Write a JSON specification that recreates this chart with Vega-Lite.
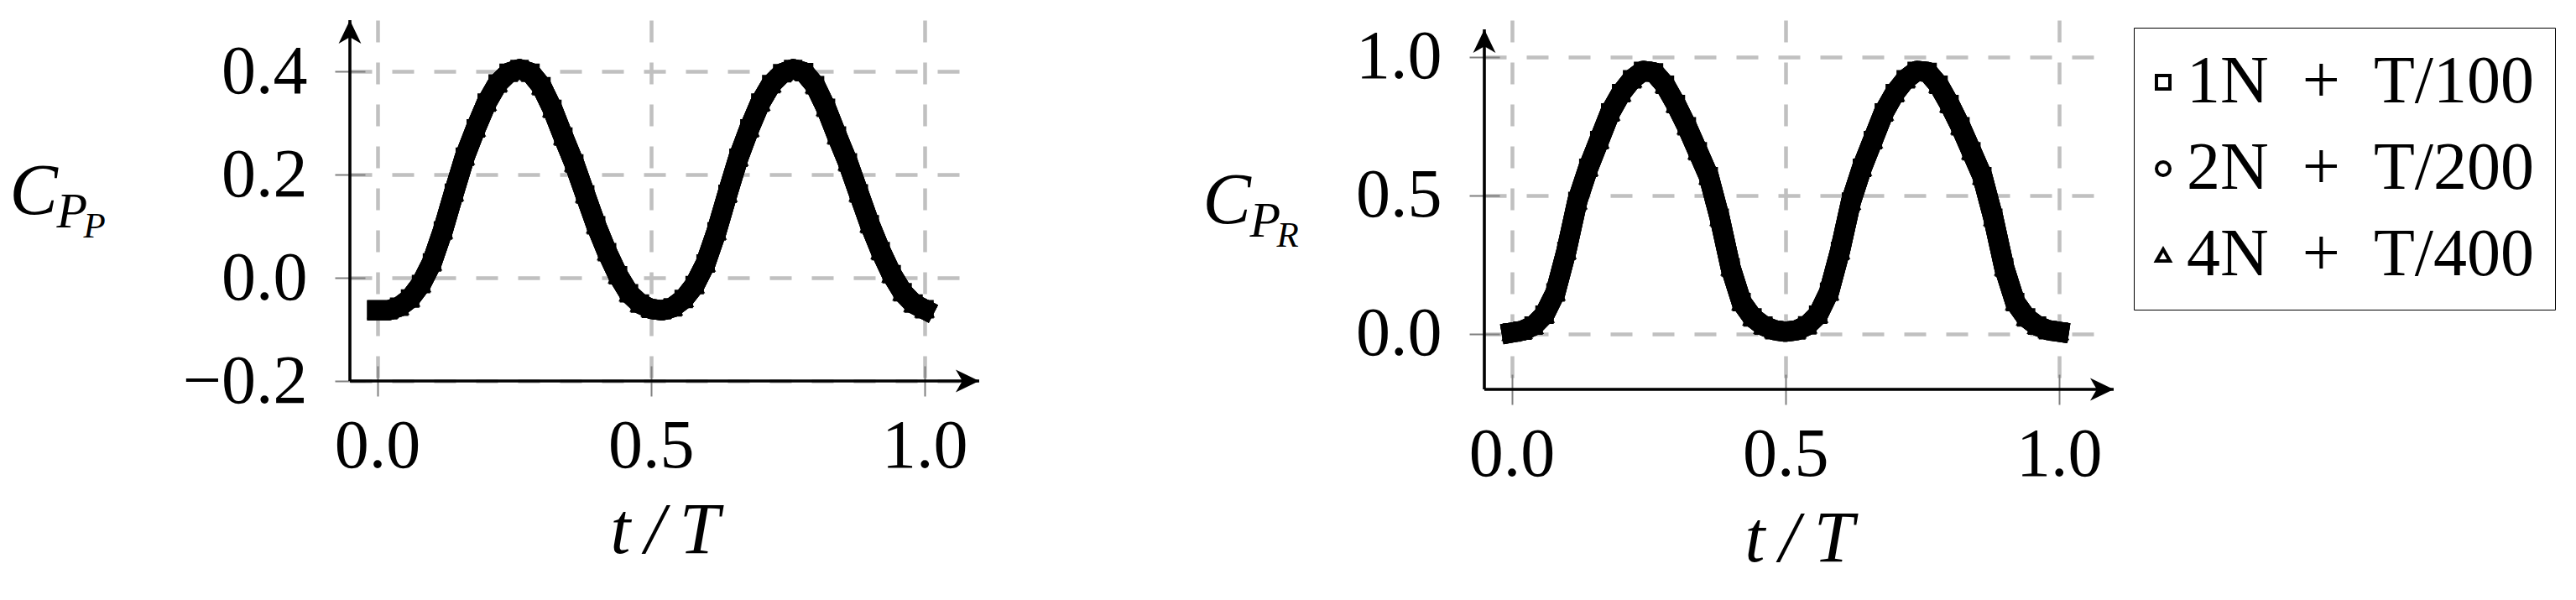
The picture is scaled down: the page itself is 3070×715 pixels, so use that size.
{
"$schema": "https://vega.github.io/schema/vega-lite/v6.json",
"padding": {"left": 11, "top": 22, "right": 5, "bottom": 5},
"background": "white",
"config": {
  "font": "Liberation Serif",
  "view": {"stroke": null},
  "axis": {"labelFont": "Liberation Serif", "labelFontSize": 82, "labelColor": "black", "titleFont": "Liberation Serif", "titleColor": "black", "titleFontWeight": "normal", "tickColor": "#808080", "tickWidth": 2, "gridColor": "#c0c0c0", "gridDash": [26, 24], "gridWidth": 4.5, "gridOpacity": 1, "domain": false, "labelFlush": false, "labelOverlap": false}
},
"resolve": {"scale": {"shape": "independent"}, "legend": {"shape": "independent"}},
"spacing": 264,
"datasets": {
"pp": [
{"s":"1N","t":0,"c":-0.063},{"s":"1N","t":0.02,"c":-0.063},{"s":"1N","t":0.04,"c":-0.056},{"s":"1N","t":0.06,"c":-0.04},{"s":"1N","t":0.08,"c":-0.012},{"s":"1N","t":0.1,"c":0.03},{"s":"1N","t":0.12,"c":0.092},{"s":"1N","t":0.14,"c":0.165},{"s":"1N","t":0.16,"c":0.235},{"s":"1N","t":0.18,"c":0.29},{"s":"1N","t":0.2,"c":0.34},{"s":"1N","t":0.22,"c":0.377},{"s":"1N","t":0.24,"c":0.398},{"s":"1N","t":0.26,"c":0.405},{"s":"1N","t":0.28,"c":0.398},{"s":"1N","t":0.3,"c":0.372},{"s":"1N","t":0.32,"c":0.328},{"s":"1N","t":0.34,"c":0.274},{"s":"1N","t":0.36,"c":0.222},{"s":"1N","t":0.38,"c":0.162},{"s":"1N","t":0.4,"c":0.102},{"s":"1N","t":0.42,"c":0.05},{"s":"1N","t":0.44,"c":0.005},{"s":"1N","t":0.46,"c":-0.03},{"s":"1N","t":0.48,"c":-0.05},{"s":"1N","t":0.5,"c":-0.06},{"s":"1N","t":0.52,"c":-0.063},{"s":"1N","t":0.54,"c":-0.057},{"s":"1N","t":0.56,"c":-0.041},{"s":"1N","t":0.58,"c":-0.014},{"s":"1N","t":0.6,"c":0.028},{"s":"1N","t":0.62,"c":0.09},{"s":"1N","t":0.64,"c":0.163},{"s":"1N","t":0.66,"c":0.233},{"s":"1N","t":0.68,"c":0.29},{"s":"1N","t":0.7,"c":0.34},{"s":"1N","t":0.72,"c":0.376},{"s":"1N","t":0.74,"c":0.397},{"s":"1N","t":0.76,"c":0.405},{"s":"1N","t":0.78,"c":0.399},{"s":"1N","t":0.8,"c":0.374},{"s":"1N","t":0.82,"c":0.33},{"s":"1N","t":0.84,"c":0.276},{"s":"1N","t":0.86,"c":0.224},{"s":"1N","t":0.88,"c":0.164},{"s":"1N","t":0.9,"c":0.104},{"s":"1N","t":0.92,"c":0.052},{"s":"1N","t":0.94,"c":0.007},{"s":"1N","t":0.96,"c":-0.028},{"s":"1N","t":0.98,"c":-0.05},{"s":"1N","t":1,"c":-0.061},
{"s":"2N","t":0,"c":-0.063},{"s":"2N","t":0.02,"c":-0.063},{"s":"2N","t":0.04,"c":-0.056},{"s":"2N","t":0.06,"c":-0.04},{"s":"2N","t":0.08,"c":-0.012},{"s":"2N","t":0.1,"c":0.03},{"s":"2N","t":0.12,"c":0.092},{"s":"2N","t":0.14,"c":0.165},{"s":"2N","t":0.16,"c":0.235},{"s":"2N","t":0.18,"c":0.29},{"s":"2N","t":0.2,"c":0.34},{"s":"2N","t":0.22,"c":0.377},{"s":"2N","t":0.24,"c":0.398},{"s":"2N","t":0.26,"c":0.405},{"s":"2N","t":0.28,"c":0.398},{"s":"2N","t":0.3,"c":0.372},{"s":"2N","t":0.32,"c":0.328},{"s":"2N","t":0.34,"c":0.274},{"s":"2N","t":0.36,"c":0.222},{"s":"2N","t":0.38,"c":0.162},{"s":"2N","t":0.4,"c":0.102},{"s":"2N","t":0.42,"c":0.05},{"s":"2N","t":0.44,"c":0.005},{"s":"2N","t":0.46,"c":-0.03},{"s":"2N","t":0.48,"c":-0.05},{"s":"2N","t":0.5,"c":-0.06},{"s":"2N","t":0.52,"c":-0.063},{"s":"2N","t":0.54,"c":-0.057},{"s":"2N","t":0.56,"c":-0.041},{"s":"2N","t":0.58,"c":-0.014},{"s":"2N","t":0.6,"c":0.028},{"s":"2N","t":0.62,"c":0.09},{"s":"2N","t":0.64,"c":0.163},{"s":"2N","t":0.66,"c":0.233},{"s":"2N","t":0.68,"c":0.29},{"s":"2N","t":0.7,"c":0.34},{"s":"2N","t":0.72,"c":0.376},{"s":"2N","t":0.74,"c":0.397},{"s":"2N","t":0.76,"c":0.405},{"s":"2N","t":0.78,"c":0.399},{"s":"2N","t":0.8,"c":0.374},{"s":"2N","t":0.82,"c":0.33},{"s":"2N","t":0.84,"c":0.276},{"s":"2N","t":0.86,"c":0.224},{"s":"2N","t":0.88,"c":0.164},{"s":"2N","t":0.9,"c":0.104},{"s":"2N","t":0.92,"c":0.052},{"s":"2N","t":0.94,"c":0.007},{"s":"2N","t":0.96,"c":-0.028},{"s":"2N","t":0.98,"c":-0.05},{"s":"2N","t":1,"c":-0.061},
{"s":"4N","t":0,"c":-0.063},{"s":"4N","t":0.02,"c":-0.063},{"s":"4N","t":0.04,"c":-0.056},{"s":"4N","t":0.06,"c":-0.04},{"s":"4N","t":0.08,"c":-0.012},{"s":"4N","t":0.1,"c":0.03},{"s":"4N","t":0.12,"c":0.092},{"s":"4N","t":0.14,"c":0.165},{"s":"4N","t":0.16,"c":0.235},{"s":"4N","t":0.18,"c":0.29},{"s":"4N","t":0.2,"c":0.34},{"s":"4N","t":0.22,"c":0.377},{"s":"4N","t":0.24,"c":0.398},{"s":"4N","t":0.26,"c":0.405},{"s":"4N","t":0.28,"c":0.398},{"s":"4N","t":0.3,"c":0.372},{"s":"4N","t":0.32,"c":0.328},{"s":"4N","t":0.34,"c":0.274},{"s":"4N","t":0.36,"c":0.222},{"s":"4N","t":0.38,"c":0.162},{"s":"4N","t":0.4,"c":0.102},{"s":"4N","t":0.42,"c":0.05},{"s":"4N","t":0.44,"c":0.005},{"s":"4N","t":0.46,"c":-0.03},{"s":"4N","t":0.48,"c":-0.05},{"s":"4N","t":0.5,"c":-0.06},{"s":"4N","t":0.52,"c":-0.063},{"s":"4N","t":0.54,"c":-0.057},{"s":"4N","t":0.56,"c":-0.041},{"s":"4N","t":0.58,"c":-0.014},{"s":"4N","t":0.6,"c":0.028},{"s":"4N","t":0.62,"c":0.09},{"s":"4N","t":0.64,"c":0.163},{"s":"4N","t":0.66,"c":0.233},{"s":"4N","t":0.68,"c":0.29},{"s":"4N","t":0.7,"c":0.34},{"s":"4N","t":0.72,"c":0.376},{"s":"4N","t":0.74,"c":0.397},{"s":"4N","t":0.76,"c":0.405},{"s":"4N","t":0.78,"c":0.399},{"s":"4N","t":0.8,"c":0.374},{"s":"4N","t":0.82,"c":0.33},{"s":"4N","t":0.84,"c":0.276},{"s":"4N","t":0.86,"c":0.224},{"s":"4N","t":0.88,"c":0.164},{"s":"4N","t":0.9,"c":0.104},{"s":"4N","t":0.92,"c":0.052},{"s":"4N","t":0.94,"c":0.007},{"s":"4N","t":0.96,"c":-0.028},{"s":"4N","t":0.98,"c":-0.05},{"s":"4N","t":1,"c":-0.061}
],
"pr": [
{"s":"1N","t":0,"c":0.005},{"s":"1N","t":0.02,"c":0.012},{"s":"1N","t":0.04,"c":0.03},{"s":"1N","t":0.06,"c":0.07},{"s":"1N","t":0.08,"c":0.15},{"s":"1N","t":0.1,"c":0.3},{"s":"1N","t":0.12,"c":0.48},{"s":"1N","t":0.14,"c":0.6},{"s":"1N","t":0.16,"c":0.7},{"s":"1N","t":0.18,"c":0.8},{"s":"1N","t":0.2,"c":0.87},{"s":"1N","t":0.22,"c":0.92},{"s":"1N","t":0.24,"c":0.95},{"s":"1N","t":0.26,"c":0.945},{"s":"1N","t":0.28,"c":0.9},{"s":"1N","t":0.3,"c":0.83},{"s":"1N","t":0.32,"c":0.75},{"s":"1N","t":0.34,"c":0.66},{"s":"1N","t":0.36,"c":0.57},{"s":"1N","t":0.38,"c":0.42},{"s":"1N","t":0.4,"c":0.24},{"s":"1N","t":0.42,"c":0.115},{"s":"1N","t":0.44,"c":0.06},{"s":"1N","t":0.46,"c":0.03},{"s":"1N","t":0.48,"c":0.014},{"s":"1N","t":0.5,"c":0.008},{"s":"1N","t":0.52,"c":0.013},{"s":"1N","t":0.54,"c":0.031},{"s":"1N","t":0.56,"c":0.07},{"s":"1N","t":0.58,"c":0.152},{"s":"1N","t":0.6,"c":0.3},{"s":"1N","t":0.62,"c":0.478},{"s":"1N","t":0.64,"c":0.6},{"s":"1N","t":0.66,"c":0.7},{"s":"1N","t":0.68,"c":0.8},{"s":"1N","t":0.7,"c":0.87},{"s":"1N","t":0.72,"c":0.92},{"s":"1N","t":0.74,"c":0.95},{"s":"1N","t":0.76,"c":0.946},{"s":"1N","t":0.78,"c":0.9},{"s":"1N","t":0.8,"c":0.83},{"s":"1N","t":0.82,"c":0.75},{"s":"1N","t":0.84,"c":0.66},{"s":"1N","t":0.86,"c":0.57},{"s":"1N","t":0.88,"c":0.42},{"s":"1N","t":0.9,"c":0.24},{"s":"1N","t":0.92,"c":0.115},{"s":"1N","t":0.94,"c":0.06},{"s":"1N","t":0.96,"c":0.03},{"s":"1N","t":0.98,"c":0.014},{"s":"1N","t":1,"c":0.008},
{"s":"2N","t":0,"c":0.005},{"s":"2N","t":0.02,"c":0.012},{"s":"2N","t":0.04,"c":0.03},{"s":"2N","t":0.06,"c":0.07},{"s":"2N","t":0.08,"c":0.15},{"s":"2N","t":0.1,"c":0.3},{"s":"2N","t":0.12,"c":0.48},{"s":"2N","t":0.14,"c":0.6},{"s":"2N","t":0.16,"c":0.7},{"s":"2N","t":0.18,"c":0.8},{"s":"2N","t":0.2,"c":0.87},{"s":"2N","t":0.22,"c":0.92},{"s":"2N","t":0.24,"c":0.95},{"s":"2N","t":0.26,"c":0.945},{"s":"2N","t":0.28,"c":0.9},{"s":"2N","t":0.3,"c":0.83},{"s":"2N","t":0.32,"c":0.75},{"s":"2N","t":0.34,"c":0.66},{"s":"2N","t":0.36,"c":0.57},{"s":"2N","t":0.38,"c":0.42},{"s":"2N","t":0.4,"c":0.24},{"s":"2N","t":0.42,"c":0.115},{"s":"2N","t":0.44,"c":0.06},{"s":"2N","t":0.46,"c":0.03},{"s":"2N","t":0.48,"c":0.014},{"s":"2N","t":0.5,"c":0.008},{"s":"2N","t":0.52,"c":0.013},{"s":"2N","t":0.54,"c":0.031},{"s":"2N","t":0.56,"c":0.07},{"s":"2N","t":0.58,"c":0.152},{"s":"2N","t":0.6,"c":0.3},{"s":"2N","t":0.62,"c":0.478},{"s":"2N","t":0.64,"c":0.6},{"s":"2N","t":0.66,"c":0.7},{"s":"2N","t":0.68,"c":0.8},{"s":"2N","t":0.7,"c":0.87},{"s":"2N","t":0.72,"c":0.92},{"s":"2N","t":0.74,"c":0.95},{"s":"2N","t":0.76,"c":0.946},{"s":"2N","t":0.78,"c":0.9},{"s":"2N","t":0.8,"c":0.83},{"s":"2N","t":0.82,"c":0.75},{"s":"2N","t":0.84,"c":0.66},{"s":"2N","t":0.86,"c":0.57},{"s":"2N","t":0.88,"c":0.42},{"s":"2N","t":0.9,"c":0.24},{"s":"2N","t":0.92,"c":0.115},{"s":"2N","t":0.94,"c":0.06},{"s":"2N","t":0.96,"c":0.03},{"s":"2N","t":0.98,"c":0.014},{"s":"2N","t":1,"c":0.008},
{"s":"4N","t":0,"c":0.005},{"s":"4N","t":0.02,"c":0.012},{"s":"4N","t":0.04,"c":0.03},{"s":"4N","t":0.06,"c":0.07},{"s":"4N","t":0.08,"c":0.15},{"s":"4N","t":0.1,"c":0.3},{"s":"4N","t":0.12,"c":0.48},{"s":"4N","t":0.14,"c":0.6},{"s":"4N","t":0.16,"c":0.7},{"s":"4N","t":0.18,"c":0.8},{"s":"4N","t":0.2,"c":0.87},{"s":"4N","t":0.22,"c":0.92},{"s":"4N","t":0.24,"c":0.95},{"s":"4N","t":0.26,"c":0.945},{"s":"4N","t":0.28,"c":0.9},{"s":"4N","t":0.3,"c":0.83},{"s":"4N","t":0.32,"c":0.75},{"s":"4N","t":0.34,"c":0.66},{"s":"4N","t":0.36,"c":0.57},{"s":"4N","t":0.38,"c":0.42},{"s":"4N","t":0.4,"c":0.24},{"s":"4N","t":0.42,"c":0.115},{"s":"4N","t":0.44,"c":0.06},{"s":"4N","t":0.46,"c":0.03},{"s":"4N","t":0.48,"c":0.014},{"s":"4N","t":0.5,"c":0.008},{"s":"4N","t":0.52,"c":0.013},{"s":"4N","t":0.54,"c":0.031},{"s":"4N","t":0.56,"c":0.07},{"s":"4N","t":0.58,"c":0.152},{"s":"4N","t":0.6,"c":0.3},{"s":"4N","t":0.62,"c":0.478},{"s":"4N","t":0.64,"c":0.6},{"s":"4N","t":0.66,"c":0.7},{"s":"4N","t":0.68,"c":0.8},{"s":"4N","t":0.7,"c":0.87},{"s":"4N","t":0.72,"c":0.92},{"s":"4N","t":0.74,"c":0.95},{"s":"4N","t":0.76,"c":0.946},{"s":"4N","t":0.78,"c":0.9},{"s":"4N","t":0.8,"c":0.83},{"s":"4N","t":0.82,"c":0.75},{"s":"4N","t":0.84,"c":0.66},{"s":"4N","t":0.86,"c":0.57},{"s":"4N","t":0.88,"c":0.42},{"s":"4N","t":0.9,"c":0.24},{"s":"4N","t":0.92,"c":0.115},{"s":"4N","t":0.94,"c":0.06},{"s":"4N","t":0.96,"c":0.03},{"s":"4N","t":0.98,"c":0.014},{"s":"4N","t":1,"c":0.008}
]
},
"hconcat": [
{
  "width": 750, "height": 430,
  "data": {"name": "pp"},
  "resolve": {"axis": {"x": "independent", "y": "independent"}},
  "layer": [
    {"mark": {"type": "line", "color": "black", "strokeWidth": 24, "strokeJoin": "round", "strokeCap": "square"},
     "encoding": {
       "x": {"field": "t", "type": "quantitative", "scale": {"domain": [-0.05, 1.1], "nice": false, "zero": false},
             "axis": {"orient": "bottom", "values": [0, 0.5, 1], "format": ".1f", "title": "t\u2009/\u2009T", "titleFontSize": 86, "titleFontStyle": "italic", "titlePadding": 18, "offset": -18, "tickSize": 36, "labelPadding": 19, "grid": true}},
       "y": {"field": "c", "type": "quantitative", "scale": {"domain": [-0.2, 0.5], "nice": false, "zero": false},
             "axis": {"orient": "left", "values": [-0.2, 0, 0.2, 0.4], "format": ".1f", "title": null, "offset": -18, "tickSize": 36, "labelPadding": 33, "grid": true}},
       "detail": {"field": "s"}
     }},
    {"mark": {"type": "point", "filled": false, "color": "black", "strokeWidth": 4, "size": 324, "opacity": 1},
     "encoding": {
       "x": {"field": "t", "type": "quantitative", "axis": null},
       "y": {"field": "c", "type": "quantitative", "axis": {"orient": "left", "title": "C", "titleFontSize": 86, "titleFontStyle": "italic", "titleAngle": 0, "titleAlign": "left", "titleBaseline": "alphabetic", "titleX": -406, "titleY": 230, "labels": false, "ticks": false, "domain": false, "grid": false}},
       "shape": {"field": "s", "type": "nominal", "scale": {"domain": ["1N", "2N", "4N"], "range": ["square", "circle", "triangle-up"]}, "legend": null}
     }},
    {"data": {"values": [{}]},
     "mark": {"type": "rule", "color": "black", "strokeWidth": 3.6},
     "encoding": {"y": {"datum": -0.2, "axis": {"orient": "left", "title": "P", "titleFontSize": 60, "titleFontStyle": "italic", "titleAngle": 0, "titleAlign": "left", "titleBaseline": "alphabetic", "titleX": -350, "titleY": 246, "labels": false, "ticks": false, "domain": false, "grid": false}}}},
    {"data": {"values": [{}]},
     "mark": {"type": "rule", "color": "black", "strokeWidth": 3.6},
     "encoding": {"x": {"datum": -0.05, "axis": null}}},
    {"data": {"values": [{}]},
     "mark": {"type": "point", "shape": "M0,0L0.48,1L0,0.72L-0.48,1Z", "filled": true, "color": "black", "size": 3136, "opacity": 1, "strokeWidth": 0},
     "encoding": {"x": {"datum": -0.05, "axis": null}, "y": {"datum": 0.5, "axis": {"orient": "left", "title": "P", "titleFontSize": 43, "titleFontStyle": "italic", "titleAngle": 0, "titleAlign": "left", "titleBaseline": "alphabetic", "titleX": -318, "titleY": 258, "labels": false, "ticks": false, "domain": false, "grid": false}}}},
    {"data": {"values": [{}]},
     "mark": {"type": "point", "shape": "M0,0L0.48,1L0,0.72L-0.48,1Z", "filled": true, "color": "black", "size": 3136, "opacity": 1, "strokeWidth": 0, "angle": 90},
     "encoding": {"x": {"datum": 1.1, "axis": null}, "y": {"datum": -0.2, "axis": null}}}
  ]
},
{
  "width": 750, "height": 440,
  "data": {"name": "pr"},
  "resolve": {"axis": {"x": "independent", "y": "independent"}},
  "layer": [
    {"mark": {"type": "line", "color": "black", "strokeWidth": 24, "strokeJoin": "round", "strokeCap": "square"},
     "encoding": {
       "x": {"field": "t", "type": "quantitative", "scale": {"domain": [-0.05, 1.1], "nice": false, "zero": false},
             "axis": {"orient": "bottom", "values": [0, 0.5, 1], "format": ".1f", "title": "t\u2009/\u2009T", "titleFontSize": 86, "titleFontStyle": "italic", "titlePadding": 18, "offset": -18, "tickSize": 36, "labelPadding": 19, "grid": true}},
       "y": {"field": "c", "type": "quantitative", "scale": {"domain": [-0.2, 1.1333], "nice": false, "zero": false},
             "axis": {"orient": "left", "values": [0, 0.5, 1], "format": ".1f", "title": null, "offset": -18, "tickSize": 36, "labelPadding": 33, "grid": true}},
       "detail": {"field": "s"}
     }},
    {"mark": {"type": "point", "filled": false, "color": "black", "strokeWidth": 4, "size": 324, "opacity": 1},
     "encoding": {
       "x": {"field": "t", "type": "quantitative", "axis": null},
       "y": {"field": "c", "type": "quantitative", "axis": {"orient": "left", "title": "C", "titleFontSize": 86, "titleFontStyle": "italic", "titleAngle": 0, "titleAlign": "left", "titleBaseline": "alphabetic", "titleX": -336, "titleY": 241, "labels": false, "ticks": false, "domain": false, "grid": false}},
       "shape": {"field": "s", "type": "nominal", "scale": {"domain": ["1N", "2N", "4N"], "range": ["square", "circle", "triangle-up"]},
                 "legend": {"title": null, "orient": "none", "legendX": 774, "legendY": 9, "padding": 25, "rowPadding": 23, "labelOffset": -12, "symbolOffset": -30, "labelFontSize": 80, "labelFont": "Liberation Serif", "labelColor": "black", "labelLimit": 2000, "symbolSize": 256, "symbolStrokeWidth": 4, "symbolStrokeColor": "black", "strokeColor": "black", "fillColor": "white",
                            "labelExpr": "datum.label == '1N' ? '1N\u2002+\u2002T/100' : datum.label == '2N' ? '2N\u2002+\u2002T/200' : '4N\u2002+\u2002T/400'",
                            "encode": {"legend": {"update": {"strokeWidth": {"value": 4}}}}}}
     }},
    {"data": {"values": [{}]},
     "mark": {"type": "rule", "color": "black", "strokeWidth": 3.6},
     "encoding": {"y": {"datum": -0.2, "axis": {"orient": "left", "title": "P", "titleFontSize": 60, "titleFontStyle": "italic", "titleAngle": 0, "titleAlign": "left", "titleBaseline": "alphabetic", "titleX": -280, "titleY": 257, "labels": false, "ticks": false, "domain": false, "grid": false}}}},
    {"data": {"values": [{}]},
     "mark": {"type": "rule", "color": "black", "strokeWidth": 3.6},
     "encoding": {"x": {"datum": -0.05, "axis": null}, "y": {"datum": -0.2, "axis": null}, "y2": {"datum": 1.1}}},
    {"data": {"values": [{}]},
     "mark": {"type": "point", "shape": "M0,0L0.48,1L0,0.72L-0.48,1Z", "filled": true, "color": "black", "size": 3136, "opacity": 1, "strokeWidth": 0},
     "encoding": {"x": {"datum": -0.05, "axis": null}, "y": {"datum": 1.1, "axis": {"orient": "left", "title": "R", "titleFontSize": 43, "titleFontStyle": "italic", "titleAngle": 0, "titleAlign": "left", "titleBaseline": "alphabetic", "titleX": -248, "titleY": 269, "labels": false, "ticks": false, "domain": false, "grid": false}}}},
    {"data": {"values": [{}]},
     "mark": {"type": "point", "shape": "M0,0L0.48,1L0,0.72L-0.48,1Z", "filled": true, "color": "black", "size": 3136, "opacity": 1, "strokeWidth": 0, "angle": 90},
     "encoding": {"x": {"datum": 1.1, "axis": null}, "y": {"datum": -0.2, "axis": null}}}
  ]
}
]
}
